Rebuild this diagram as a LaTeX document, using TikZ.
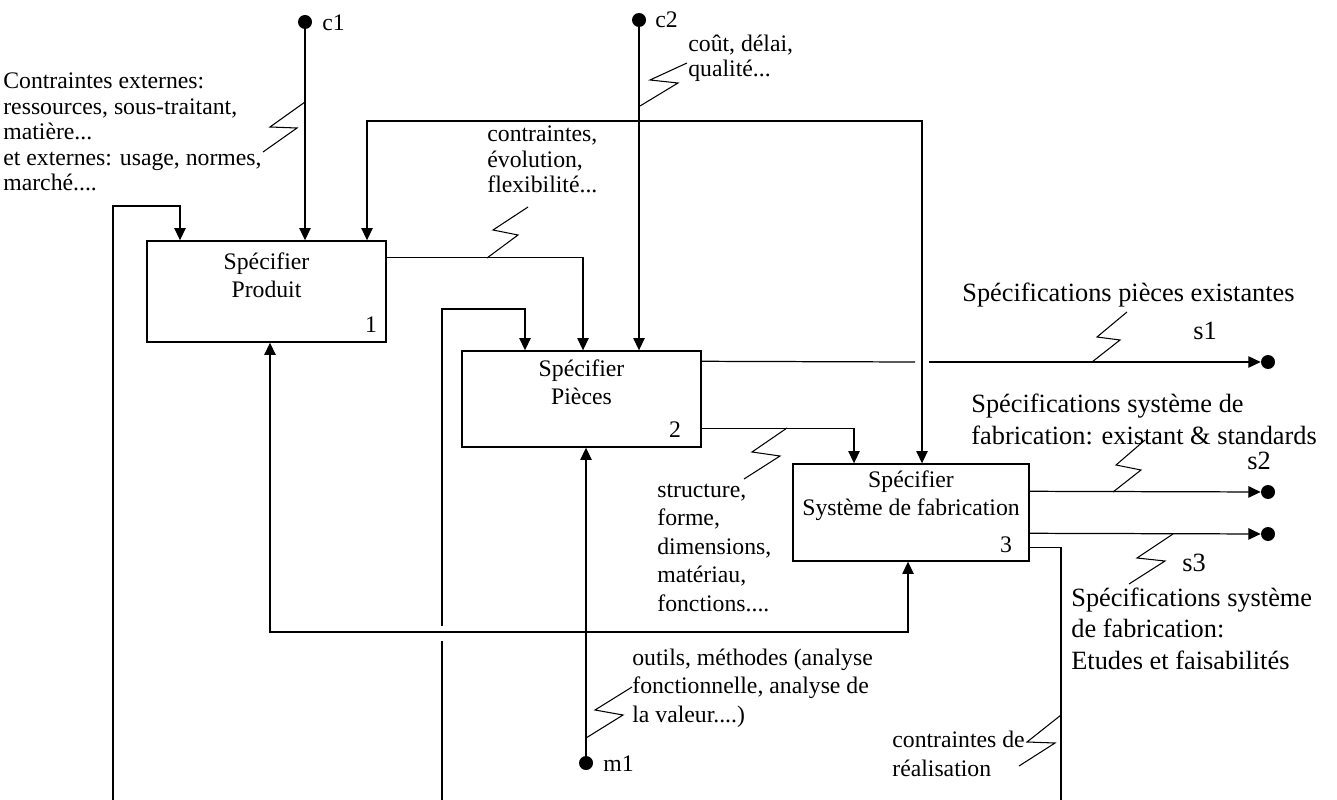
\documentclass[tikz,border=0pt]{standalone}
\usepackage{fontspec}
\setmainfont{Liberation Serif}
\usetikzlibrary{arrows.meta,positioning}
\tikzset{
    procbox/.style={draw, line width=0.8pt, inner sep=0pt},
    boxtitle/.style={align=center, font=\fontsize{13.5}{16}\selectfont, inner sep=0pt},
    boxnum/.style={font=\fontsize{13.5}{16}\selectfont, inner sep=0pt},
    lbl/.style={align=left, font=\fontsize{13.5}{14.6}\selectfont, inner sep=0pt, anchor=base west},
    lbltall/.style={align=left, font=\fontsize{13.5}{16.2}\selectfont, inner sep=0pt, anchor=base west},
    biglbl/.style={align=left, font=\fontsize{15}{17.8}\selectfont, inner sep=0pt, anchor=base west},
    port/.style={circle, fill, inner sep=0pt, minimum size=0.28cm},
    wire/.style={line width=0.7pt},
    flow/.style={line width=0.7pt, -{Triangle[length=7pt, width=6.5pt]}},
    flowtwo/.style={line width=0.7pt, {Triangle[length=7pt, width=6.5pt]}-{Triangle[length=7pt, width=6.5pt]}},
    zig/.style={line width=0.6pt}
}
\begin{document}
\begin{tikzpicture}[x=0.02cm, y=-0.02cm]
                \useasboundingbox (0,0) rectangle (1337,800);

                \node[procbox, minimum width=4.78cm, minimum height=2.02cm] (spec1) at (266.5,291.5) {};
                \node[procbox, minimum width=4.78cm, minimum height=1.92cm] (spec2) at (581.5,399) {};
                \node[procbox, minimum width=4.72cm, minimum height=1.94cm] (spec3) at (911,512.5) {};
                \node[boxtitle] (spec1t) at (266.5,275.5) {Spécifier\\Produit};
                \node[boxtitle] (spec2t) at (581.5,382.5) {Spécifier\\Pièces};
                \node[boxtitle] (spec3t) at (911,496) {Spécifier\\Système de fabrication};
                \node[boxnum] (spec1n) at (371,325) {1};
                \node[boxnum] (spec2n) at (675,430) {2};
                \node[boxnum] (spec3n) at (1006,545) {3};

                \node[port] (c1) at (305,22) {};
                \node[port] (c2) at (639,20) {};
                \node[port] (m1) at (586,763) {};
                \node[port] (s1) at (1268,362) {};
                \node[port] (s2) at (1268,492) {};
                \node[port] (s3) at (1268,534) {};
                \node[lbl] (c1l) at (322,31) {c1};
                \node[lbl] (c2l) at (655,28) {c2};
                \node[lbl] (m1l) at (603,771) {m1};

                \coordinate (topl) at (367,121);
                \coordinate (topr) at (922,121);
                \coordinate (fb1) at (113,800);
                \coordinate (in1) at (180,206);
                \coordinate (fb2) at (442,800);
                \coordinate (fb2a) at (442,641);
                \coordinate (fb2b) at (442,626);
                \coordinate (in2) at (525,309);
                \coordinate (fbl) at (270,632);
                \coordinate (fbr) at (908,632);
                \coordinate (hopa) at (915,362);
                \coordinate (hopb) at (929,362);
                \coordinate (rc) at (1061,800);

                \draw[flow] (c1) -- (c1 |- spec1.north);
                \draw[flow] (c2) -- (c2 |- spec2.north);
                \draw[flow] (m1) -- (m1 |- spec2.south);
                \draw[flowtwo] (topl |- spec1.north) -- (topl) -- (topr) -- (topr |- spec3.north);
                \draw[flow] (fb1) |- (in1) -- (in1 |- spec1.north);
                \draw[wire] (fb2) -- (fb2a);
                \draw[flow] (fb2b) |- (in2) -- (in2 |- spec2.north);
                \draw[flowtwo] (fbl |- spec1.south) -- (fbl) -- (fbr) -- (fbr |- spec3.south);
                \draw[flow] ([shift={(0,17)}]spec1.north east) -| ([shift={(1.5,0)}]spec2.north);
                \draw[flow] ([shift={(0,-19)}]spec2.south east) -| ([shift={(-57,0)}]spec3.north);
                \draw[wire] ([shift={(0,11)}]spec2.north east) -- (hopa);
                \draw[flow] (hopb) -- (s1);
                \draw[flow] ([shift={(0,28)}]spec3.north east) -- (s2);
                \draw[flow] ([shift={(0,70)}]spec3.north east) -- (s3);
                \draw[wire] ([shift={(0,-14)}]spec3.south east) -| (rc);

                \draw[zig] (305,102) -- (270,127) -- (297,128) -- (263,152);
                \draw[zig] (640,106) -- (678,83) -- (650,80) -- (687,63);
                \draw[zig] (487,258) -- (518,235) -- (493,230) -- (528,207);
                \draw[zig] (787,428) -- (752,452) -- (780,456) -- (744,479);
                \draw[zig] (1092,362) -- (1120,340) -- (1097,337) -- (1127,312);
                \draw[zig] (1113,492) -- (1141,470) -- (1116,465) -- (1145,440);
                \draw[zig] (1173,534) -- (1137,558) -- (1165,561) -- (1129,584);
                \draw[zig] (1061,715) -- (1027,742) -- (1055,743) -- (1019,766);
                \draw[zig] (586,738) -- (623,715) -- (595,710) -- (632,687);

                \node[lbl] (extl) at (3,191) {Contraintes externes:\\ressources, sous-traitant,\\matière...\\et externes: usage, normes,\\marché....};
                \node[lbl] (costl) at (688,77) {coût, délai,\\qualité...};
                \node[lbl] (flexl) at (487,193) {contraintes,\\évolution,\\flexibilité...};
                \node[lbltall] (forml) at (657,611) {structure,\\forme,\\dimensions,\\matériau,\\fonctions....};
                \node[lbltall] (toolsl) at (632,722) {outils, méthodes (analyse\\fonctionnelle, analyse de\\la valeur....)};
                \node[lbltall] (reall) at (892,776) {contraintes de\\réalisation};
                \node[biglbl] (s1t) at (962,301) {Spécifications pièces existantes};
                \node[biglbl] (s2t) at (971,444) {Spécifications système de\\fabrication: existant \& standards};
                \node[biglbl] (s3t) at (1071,669) {Spécifications système\\de fabrication:\\Etudes et faisabilités};
                \node[biglbl] (s1l) at (1193,339) {s1};
                \node[biglbl] (s2l) at (1247,469) {s2};
                \node[biglbl] (s3l) at (1182,571) {s3};
\end{tikzpicture}
\end{document}
